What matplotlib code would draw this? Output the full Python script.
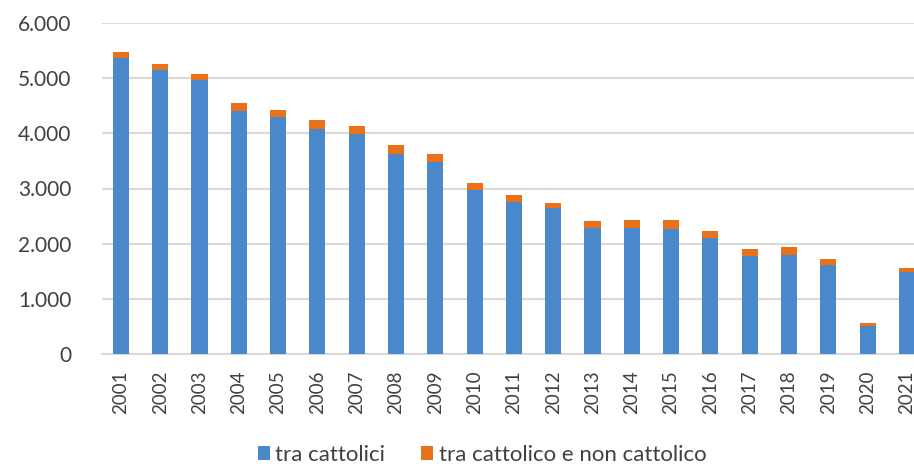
import numpy as np
import matplotlib.pyplot as plt

plt.rcParams['font.family'] = ['Lato', 'DejaVu Sans']

# Data
years = [str(y) for y in range(2001, 2022)]
tra_cattolici = [5372, 5142, 4973, 4404, 4295, 4083, 3987, 3630, 3485, 2976,
                 2747, 2644, 2275, 2281, 2263, 2111, 1785, 1803, 1621, 502, 1482]
misti = [103, 109, 109, 151, 133, 152, 139, 151, 133, 127,
         127, 96, 133, 139, 157, 127, 121, 133, 103, 55, 79]
yticks = [0, 1000, 2000, 3000, 4000, 5000, 6000]
ytick_labels = ['0', '1.000', '2.000', '3.000', '4.000', '5.000', '6.000']

blue = '#4A88CC'
orange = '#E8711A'
grid_col = '#D9D9D9'
txt_col = '#404040'

fig = plt.figure(figsize=(9.14, 4.66), dpi=100)
ax = fig.add_axes([102 / 914, 1 - 354 / 466, 1 - 102 / 914, (354 - 23) / 466])

x = np.arange(len(years))
ax.bar(x, tra_cattolici, width=0.41, color=blue, label='tra cattolici', zorder=3)
ax.bar(x, misti, width=0.41, bottom=tra_cattolici, color=orange,
       label='tra cattolico e non cattolico', zorder=3)

ax.set_ylim(0, 6000)
ax.set_xlim(-0.48, 20.18)
ax.set_yticks(yticks)
ax.set_yticklabels(ytick_labels, fontsize=15, color=txt_col)
ax.set_xticks(x)
ax.set_xticklabels(years, rotation=90, fontsize=13.5, color=txt_col)
ax.tick_params(axis='y', length=0, pad=22)
ax.tick_params(axis='x', length=0, pad=12)

ax.grid(axis='y', color=grid_col, linewidth=1.5, zorder=0)
for s in ['top', 'right', 'left']:
    ax.spines[s].set_visible(False)
ax.spines['bottom'].set_color(grid_col)
ax.spines['bottom'].set_linewidth(1.5)

fig.legend(loc='center', bbox_to_anchor=(482 / 914, 1 - 455 / 466), ncol=2,
           frameon=False, fontsize=16, handlelength=0.55, handleheight=0.55,
           handletextpad=0.25, columnspacing=1.6, labelcolor=txt_col)

fig.savefig('out.png', dpi=100)
